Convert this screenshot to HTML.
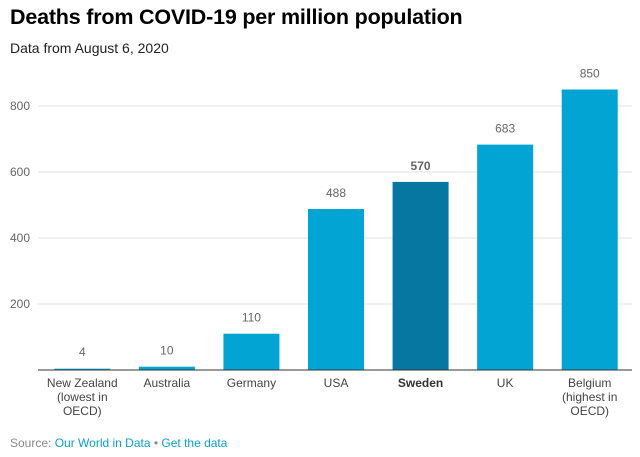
<!DOCTYPE html>
<html><head><meta charset="utf-8"><style>
body{margin:0;background:#fff;font-family:"Liberation Sans",sans-serif;width:640px;height:457px;overflow:hidden;position:relative}
#title{position:absolute;left:10px;top:5px;font-size:21.5px;font-weight:bold;color:#000;letter-spacing:-0.2px}
#sub{position:absolute;left:10px;top:40px;font-size:14px;color:#222}
#src{position:absolute;left:10px;top:436px;font-size:12px;color:#888}
#src a{color:#0aa0d0;text-decoration:none}
</style></head><body>
<div id="title">Deaths from COVID-19 per million population</div>
<div id="sub">Data from August 6, 2020</div>
<svg id="chart" width="640" height="457" style="position:absolute;left:0;top:0"></svg>
<div id="src">Source: <a>Our World in Data</a> • <a>Get the data</a></div>
<script>
const categories=[["New Zealand","(lowest in","OECD)"],["Australia"],["Germany"],["USA"],["Sweden"],["UK"],["Belgium","(highest in","OECD)"]];
const values=[4,10,110,488,570,683,850];
const highlight=[false,false,false,false,true,false,false];
const ticks=[200,400,600,800];
const svg=document.getElementById('chart');const NS='http://www.w3.org/2000/svg';
const x0=40,x1=632,base=370,k=66/200,band=(x1-x0)/categories.length,bw=56;
const y=v=>base-v*k;
function el(t,a){const e=document.createElementNS(NS,t);for(const n in a)e.setAttribute(n,a[n]);svg.appendChild(e);return e;}
ticks.forEach(t=>{
const g=el('line',{x1:38,x2:x1,y1:y(t),y2:y(t),stroke:'#e2e2e2','stroke-width':1});


const l=el('text',{x:10,y:y(t)+4,'font-size':12,fill:'#666'});l.textContent=t;


});
values.forEach((v,i)=>{
const cx=x0+band*(i+0.5);
const r=el('rect',{x:cx-bw/2,y:y(v),width:bw,height:v*k,fill:highlight[i]?'#0677a1':'#01a4d3'});


const t=el('text',{x:cx,y:Math.min(y(v)-12,base-14),'font-size':12,fill:'#666','text-anchor':'middle','font-weight':highlight[i]?'bold':'normal'});t.textContent=v;


categories[i].forEach((s,j)=>{
const c=el('text',{x:cx,y:base+17+j*14,'font-size':12,fill:highlight[i]?'#333':'#444','text-anchor':'middle','font-weight':highlight[i]?'bold':'normal'});c.textContent=s;


});
});
const b=el('line',{x1:38,x2:x1,y1:base,y2:base,stroke:'#333','stroke-width':1});


</script>
</body></html>
